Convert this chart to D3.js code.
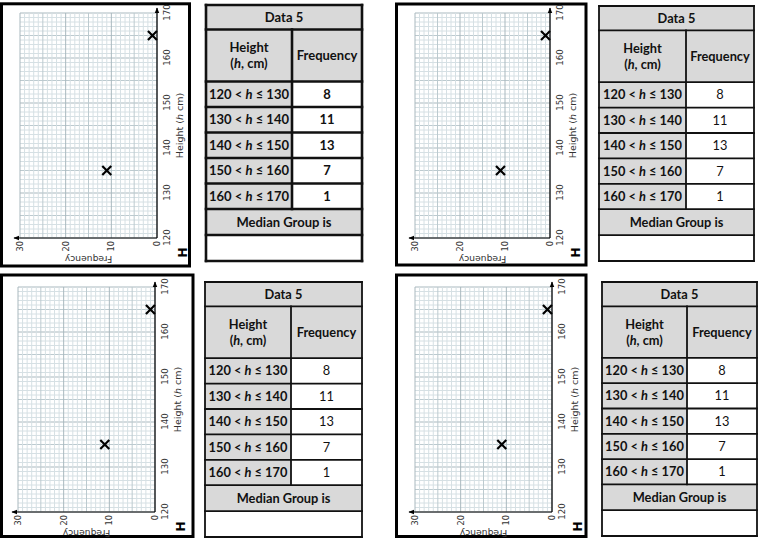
<!DOCTYPE html>
<html><head><meta charset="utf-8">
<script src="https://cdn.jsdelivr.net/npm/d3@7"></script>
<style>body{margin:0;background:#fff}svg{display:block}</style></head>
<body>
<svg id="c" width="780" height="540"></svg>
<script>
// ---- data ----
const heightTicks = [120,130,140,150,160,170];
const freqTicks = [0,10,20,30];
const groupLower = [120,130,140,150,160];
const groupUpper = [130,140,150,160,170];
const frequencies = [8,11,13,7,1];
const plottedHeights = [135,165];
const plottedFreqs = [11,1];
const tableTitle = "Data 5";
const medianLabel = "Median Group is";
const xLabel = "Height";
const yLabel = "Frequency";

// ---- layout (not data) ----
const panels = [
  {frame:[1.5,3.8,189.5,266], gx:20, gy:238, W:225, H:137,
   t:{x0:206,x1:362,xs:292,y0:5,y1:261,sw:2.6,fs:13,boldVals:true}},
  {frame:[396.5,4,586,265], gx:415, gy:238, W:225, H:135,
   t:{x0:599,x1:754,xs:686,y0:6,y1:261,sw:1.8,fs:12.8,boldVals:false}},
  {frame:[1.5,275,193,536.5], gx:18, gy:512, W:225, H:137,
   t:{x0:205,x1:362,xs:291,y0:282,y1:537,sw:1.8,fs:12.8,boldVals:false}},
  {frame:[396.5,275,586,536.5], gx:415, gy:512, W:225, H:137,
   t:{x0:602,x1:757,xs:687,y0:282,y1:536,sw:1.8,fs:12.8,boldVals:false}}
];
const rowWeights = [24.5,52,25.5,25.5,25.5,25.5,25.5,26,26];

const svg = d3.select("#c");
const defs = svg.append("defs");
defs.append("marker").attr("id","arr").attr("viewBox","0 0 10 10")
  .attr("refX",9).attr("refY",5).attr("markerWidth",5).attr("markerHeight",5)
  .attr("orient","auto").append("path").attr("d","M0,1 L10,5 L0,9 Z").attr("fill","#000");

panels.forEach(p => {
  const [fx0,fy0,fx1,fy1] = p.frame;
  svg.append("rect").attr("x",fx0).attr("y",fy0).attr("width",fx1-fx0).attr("height",fy1-fy0)
    .attr("fill","#fff").attr("stroke","#000").attr("stroke-width",3);

  // chart drawn upright then rotated -90deg
  const g = svg.append("g").attr("transform",`translate(${p.gx},${p.gy}) rotate(-90)`);
  const xs = d3.scaleLinear().domain([heightTicks[0], heightTicks[heightTicks.length-1]]).range([0,p.W]);
  const ys = d3.scaleLinear().domain([freqTicks[0], freqTicks[freqTicks.length-1]]).range([p.H,0]);

  const hUnits = d3.range(heightTicks[0], heightTicks[heightTicks.length-1]+1, 1);
  const fUnits = d3.range(freqTicks[0], freqTicks[freqTicks.length-1]+1, 1);
  const col = v => v%10===0 ? "#a9b8be" : (v%5===0 ? "#bccacf" : "#d6e0e4");
  const order = v => v%10===0 ? 2 : (v%5===0 ? 1 : 0);
  g.append("g").selectAll("line").data(hUnits.slice().sort((a,b)=>order(a)-order(b))).join("line")
    .attr("x1",d=>xs(d)).attr("x2",d=>xs(d)).attr("y1",0).attr("y2",p.H)
    .attr("stroke",col).attr("stroke-width",1);
  g.append("g").selectAll("line").data(fUnits.slice().sort((a,b)=>order(a)-order(b))).join("line")
    .attr("y1",d=>ys(d)).attr("y2",d=>ys(d)).attr("x1",0).attr("x2",p.W)
    .attr("stroke",col).attr("stroke-width",1);

  g.append("line").attr("x1",0).attr("x2",p.W+5).attr("y1",p.H).attr("y2",p.H)
    .attr("stroke","#000").attr("stroke-width",1.2).attr("marker-end","url(#arr)");
  g.append("line").attr("x1",0).attr("x2",0).attr("y1",p.H).attr("y2",-6)
    .attr("stroke","#000").attr("stroke-width",1.2).attr("marker-end","url(#arr)");

  const ax = g.append("g").attr("transform",`translate(0,${p.H})`)
    .call(d3.axisBottom(xs).tickValues(heightTicks).tickSize(0).tickPadding(7));
  ax.select(".domain").remove();
  ax.selectAll("text").attr("font-family","DejaVu Sans").attr("font-size",8.6).attr("fill","#333");

  const ay = g.append("g")
    .call(d3.axisLeft(ys).tickValues(freqTicks).tickSize(0).tickPadding(3));
  ay.select(".domain").remove();
  ay.selectAll("text").attr("font-family","DejaVu Sans").attr("font-size",8.2).attr("fill","#333");

  const xt = g.append("text").attr("x",p.W/2).attr("y",p.H+26).attr("text-anchor","middle")
    .attr("font-family","DejaVu Sans").attr("font-size",9.5).attr("fill","#333");
  xt.append("tspan").text(xLabel+" (");
  xt.append("tspan").attr("font-style","italic").text("h");
  xt.append("tspan").text(" cm)");
  g.append("text").attr("transform",`translate(-17.5,${p.H/2}) rotate(-90)`).attr("text-anchor","middle")
    .attr("font-family","DejaVu Sans").attr("font-size",9.2).attr("fill","#333").text(yLabel);
  g.append("text").attr("x",-14.5).attr("y",p.H+30).attr("text-anchor","middle")
    .attr("font-family","DejaVu Sans").attr("font-weight","bold").attr("font-size",12.5).attr("fill","#000").text("H");

  const pts = plottedHeights.map((h,i)=>({h, f:plottedFreqs[i]}));
  const cg = g.append("g").selectAll("g").data(pts).join("g")
    .attr("transform",d=>`translate(${xs(d.h)},${ys(d.f)})`);
  cg.append("path").attr("d","M-4.5,-4.5L4.5,4.5M-4.5,4.5L4.5,-4.5").attr("stroke","#000").attr("stroke-width",2.2).attr("fill","none");

  // table
  const t = p.t;
  const total = d3.sum(rowWeights);
  const ry = d3.scaleLinear().domain([0,total]).range([t.y0,t.y1]);
  const cum = [0]; rowWeights.forEach(w=>cum.push(cum[cum.length-1]+w));
  const yb = cum.map(c=>ry(c));
  const tg = svg.append("g");
  const cell = (x0,y0,x1,y1,fill) => tg.append("rect").attr("x",x0).attr("y",y0).attr("width",x1-x0).attr("height",y1-y0).attr("fill",fill);
  const grey = "#d9d9d9";
  cell(t.x0,yb[0],t.x1,yb[2],grey);
  for (let i=0;i<5;i++){ cell(t.x0,yb[2+i],t.xs,yb[3+i],grey); cell(t.xs,yb[2+i],t.x1,yb[3+i],"#fff"); }
  cell(t.x0,yb[7],t.x1,yb[8],grey);
  cell(t.x0,yb[8],t.x1,yb[9],"#fff");
  const ln = (x1,y1,x2,y2)=>tg.append("line").attr("x1",x1).attr("y1",y1).attr("x2",x2).attr("y2",y2)
    .attr("stroke","#111").attr("stroke-width",t.sw).attr("stroke-linecap","square");
  yb.forEach(y=>ln(t.x0,y,t.x1,y));
  ln(t.x0,yb[0],t.x0,yb[9]); ln(t.x1,yb[0],t.x1,yb[9]);
  ln(t.xs,yb[1],t.xs,yb[7]);

  const txt = (x,y,bold) => tg.append("text").attr("x",x).attr("y",y).attr("dy","0.35em")
    .attr("text-anchor","middle").attr("font-family","Lato").attr("font-size",t.fs)
    .attr("font-weight",bold?"bold":"normal").attr("fill","#111");
  const cx = (t.x0+t.x1)/2, cl=(t.x0+t.xs)/2, cr=(t.xs+t.x1)/2;
  txt(cx,(yb[0]+yb[1])/2,true).text(tableTitle);
  const hm = (yb[1]+yb[2])/2;
  txt(cl,hm-8,true).text(xLabel);
  const hl = txt(cl,hm+8,true);
  hl.append("tspan").text("(");
  hl.append("tspan").attr("font-style","italic").text("h");
  hl.append("tspan").text(", cm)");
  txt(cr,hm,true).text(yLabel);
  groupLower.forEach((lo,i)=>{
    const y = (yb[2+i]+yb[3+i])/2;
    const tt = txt(cl,y,true);
    tt.append("tspan").text(lo+" < ");
    tt.append("tspan").attr("font-style","italic").text("h");
    tt.append("tspan").text(" \u2264 "+groupUpper[i]);
    txt(cr,y,t.boldVals).text(frequencies[i]);
  });
  txt(cx,(yb[7]+yb[8])/2,true).text(medianLabel);
});
</script>
</body></html>
